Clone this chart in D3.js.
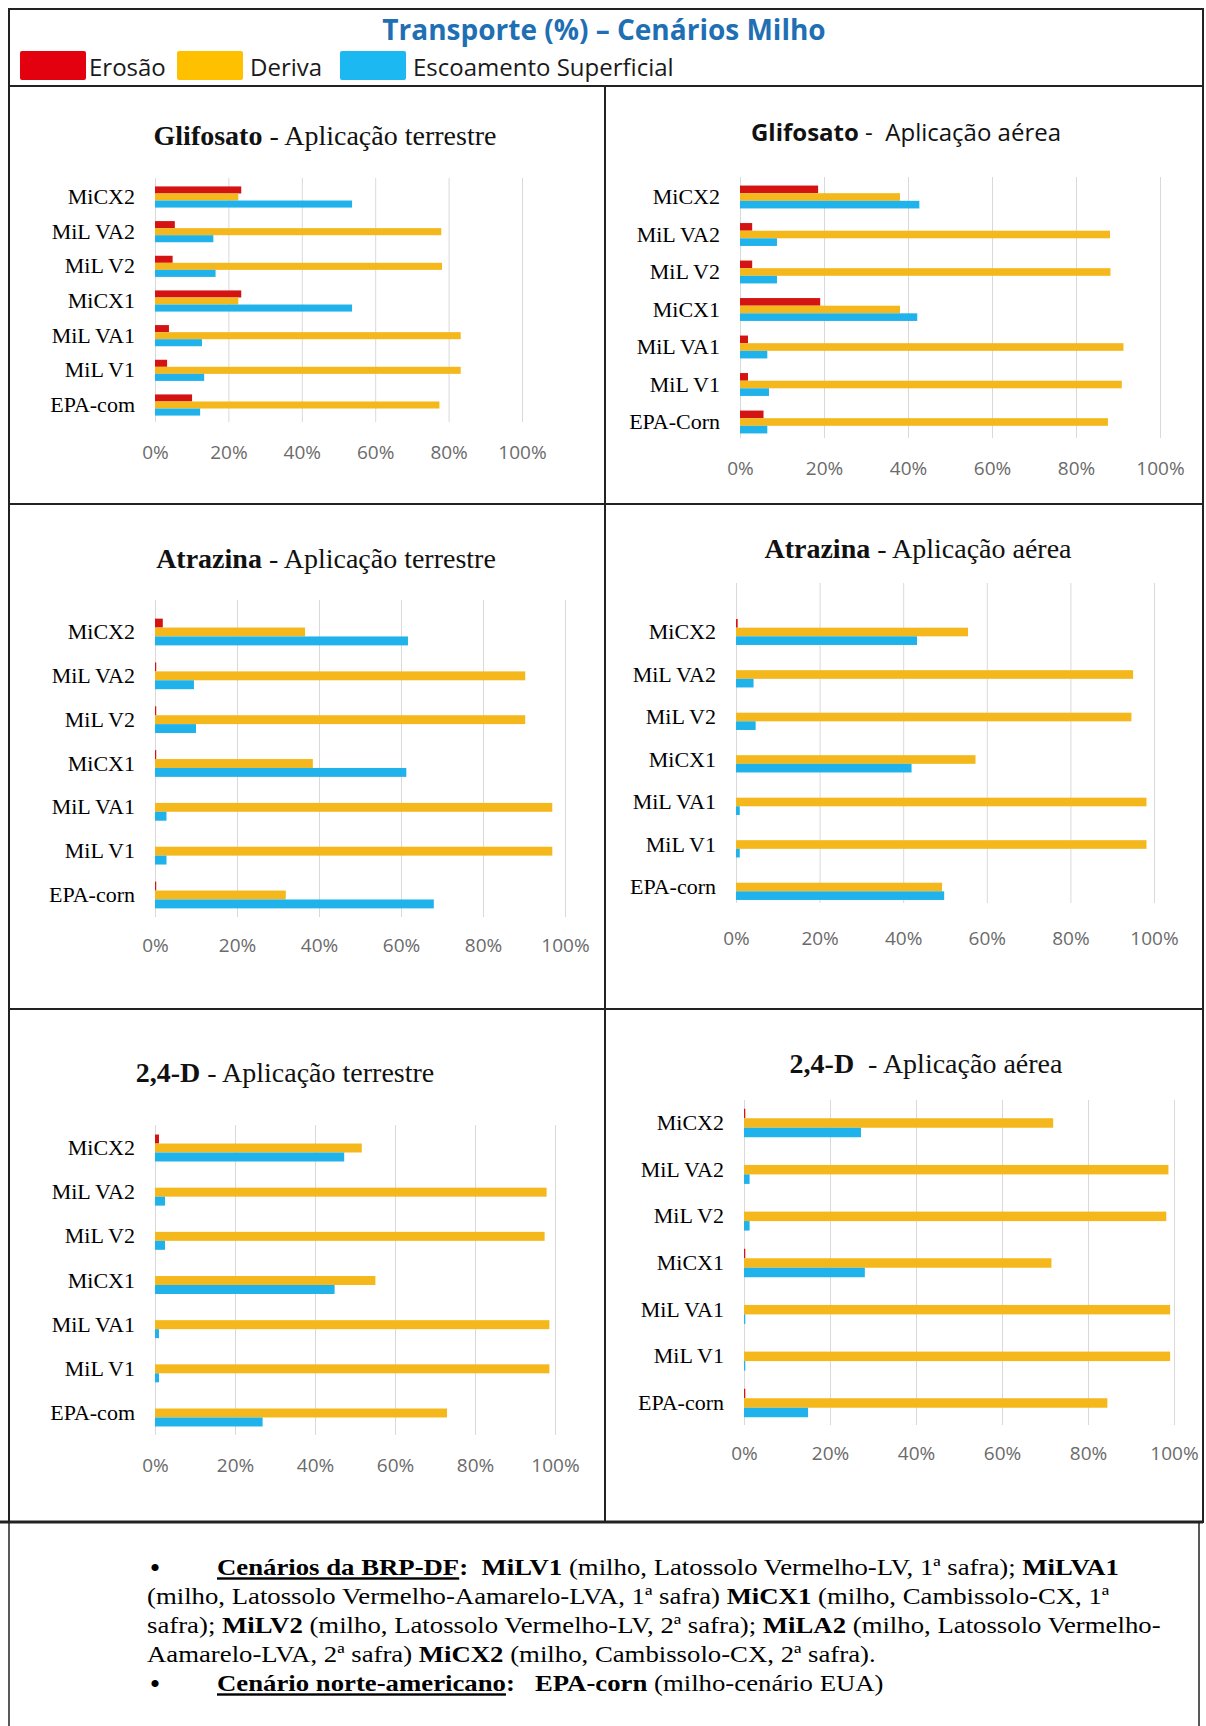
<!DOCTYPE html>
<html>
<head>
<meta charset="utf-8">
<script src="https://cdn.jsdelivr.net/npm/d3@7"></script>
<style>
  body { margin: 0; background: #fff; }
  text { white-space: pre; }
</style>
</head>
<body>
<div id="chart"></div>
<script>
// Categories (top to bottom)
const categorias = ["MiCX2", "MiL VA2", "MiL V2", "MiCX1", "MiL VA1", "MiL V1"];
const rotulosEPA = ["EPA-com", "EPA-Corn", "EPA-corn", "EPA-corn", "EPA-com", "EPA-corn"];
const series = ["Erosão", "Deriva", "Escoamento Superficial"];
const ticksPct = [0, 20, 40, 60, 80, 100];

// Glifosato - terrestre
const glifTerErosao = [23.5, 5.4, 4.8, 23.5, 3.8, 3.3, 10.1];
const glifTerDeriva = [22.7, 78.0, 78.2, 22.7, 83.3, 83.3, 77.5];
const glifTerEscoam = [53.7, 15.9, 16.5, 53.7, 12.8, 13.4, 12.3];
// Glifosato - aérea
const glifAerErosao = [18.6, 2.9, 2.9, 19.1, 1.9, 1.9, 5.6];
const glifAerDeriva = [38.1, 88.1, 88.2, 38.1, 91.3, 90.9, 87.6];
const glifAerEscoam = [42.7, 8.8, 8.8, 42.2, 6.5, 6.9, 6.5];
// Atrazina - terrestre
const atrTerErosao = [1.9, 0.3, 0.3, 0.3, 0, 0, 0.3];
const atrTerDeriva = [36.6, 90.3, 90.3, 38.5, 96.9, 96.9, 31.9];
const atrTerEscoam = [61.7, 9.5, 10.0, 61.3, 2.8, 2.8, 68.0];
// Atrazina - aérea
const atrAerErosao = [0.4, 0, 0, 0, 0, 0, 0];
const atrAerDeriva = [55.5, 95.0, 94.6, 57.3, 98.2, 98.2, 49.3];
const atrAerEscoam = [43.3, 4.2, 4.7, 42.0, 0.9, 0.9, 49.8];
// 2,4-D - terrestre
const d24TerErosao = [1.0, 0, 0, 0, 0, 0, 0];
const d24TerDeriva = [51.7, 97.9, 97.4, 55.1, 98.6, 98.6, 73.0];
const d24TerEscoam = [47.3, 2.5, 2.5, 44.9, 1.0, 1.0, 26.9];
// 2,4-D - aérea
const d24AerErosao = [0.3, 0, 0, 0.3, 0, 0, 0.3];
const d24AerDeriva = [71.9, 98.7, 98.2, 71.5, 99.1, 99.1, 84.5];
const d24AerEscoam = [27.2, 1.3, 1.3, 28.1, 0.3, 0.3, 14.9];

const corLegenda = ["#e3000f", "#ffc000", "#1cb8f2"];
const corBarra = ["#d41313", "#f5b81c", "#20b2ea"];

const W = 1206, H = 1726;
const serif = "'Liberation Serif', 'Times New Roman', serif";
const sans = "'Open Sans', 'DejaVu Sans', sans-serif";

var svg = d3.select("#chart")
    .append("svg")
    .attr("width", W)
    .attr("height", H);

svg.append("rect").attr("width", W).attr("height", H).attr("fill", "#fff");

// Main title
svg.append("text")
    .attr("x", 604)
    .attr("y", 30)
    .attr("dy", "0.35em")
    .attr("text-anchor", "middle")
    .style("font-family", sans)
    .style("font-weight", "bold")
    .style("font-size", "28px")
    .attr("fill", "#1f6fb4")
    .text("Transporte (%) – Cenários Milho");

// Legend
const legendPos = [{sx: 20, tx: 89}, {sx: 177, tx: 250}, {sx: 340, tx: 413}];
const legend = svg.append("g")
    .selectAll("g")
    .data(series)
    .enter().append("g");
legend.append("rect")
    .attr("x", (d, i) => legendPos[i].sx)
    .attr("y", 51)
    .attr("width", 66)
    .attr("height", 29)
    .attr("rx", 2)
    .attr("fill", (d, i) => corLegenda[i]);
legend.append("text")
    .attr("x", (d, i) => legendPos[i].tx)
    .attr("y", 68)
    .attr("dy", "0.35em")
    .style("font-family", sans)
    .style("font-size", "24px")
    .attr("fill", "#1a1a1a")
    .text(d => d);

// Panels
const panels = [
    {bold: "Glifosato", rest: " - Aplicação terrestre", font: serif, fs: 28, cx: 325, ty: 135,
     x0: 155, x1: 522, c0: 197, c6: 405, gTop: 178, gBot: 422, tickY: 452,
     data: [glifTerErosao, glifTerDeriva, glifTerEscoam], epa: rotulosEPA[0]},
    {bold: "Glifosato", rest: " -  Aplicação aérea", font: sans, fs: 24, cx: 906, ty: 133,
     x0: 740, x1: 1160, c0: 197, c6: 422, gTop: 177, gBot: 438, tickY: 468,
     data: [glifAerErosao, glifAerDeriva, glifAerEscoam], epa: rotulosEPA[1]},
    {bold: "Atrazina", rest: " - Aplicação terrestre", font: serif, fs: 28, cx: 326, ty: 558,
     x0: 155, x1: 565, c0: 632, c6: 895, gTop: 600, gBot: 917, tickY: 945,
     data: [atrTerErosao, atrTerDeriva, atrTerEscoam], epa: rotulosEPA[2]},
    {bold: "Atrazina", rest: " - Aplicação aérea", font: serif, fs: 28, cx: 918, ty: 548,
     x0: 736, x1: 1154, c0: 632, c6: 887, gTop: 583, gBot: 903, tickY: 938,
     data: [atrAerErosao, atrAerDeriva, atrAerEscoam], epa: rotulosEPA[3]},
    {bold: "2,4-D", rest: " - Aplicação terrestre", font: serif, fs: 28, cx: 285, ty: 1072,
     x0: 155, x1: 555, c0: 1148, c6: 1413, gTop: 1125, gBot: 1435, tickY: 1465,
     data: [d24TerErosao, d24TerDeriva, d24TerEscoam], epa: rotulosEPA[4]},
    {bold: "2,4-D", rest: "  - Aplicação aérea", font: serif, fs: 28, cx: 926, ty: 1063,
     x0: 744, x1: 1174, c0: 1123, c6: 1403, gTop: 1100, gBot: 1425, tickY: 1453,
     data: [d24AerErosao, d24AerDeriva, d24AerEscoam], epa: rotulosEPA[5]}
];

panels.forEach(function(p) {
    const cats = categorias.concat([p.epa]);
    const step = (p.c6 - p.c0) / 6;

    const x = d3.scaleLinear().domain([0, 100]).range([p.x0, p.x1]);
    const y = d3.scaleBand()
        .domain(cats)
        .range([p.c0 - step / 2, p.c6 + step / 2])
        .paddingInner(0.39)
        .paddingOuter(0.195);
    const ys = d3.scaleBand().domain([0, 1, 2]).range([0, y.bandwidth()]);

    const g = svg.append("g");

    // gridlines
    g.append("g")
        .attr("transform", `translate(0,${p.gBot})`)
        .call(d3.axisBottom(x).tickValues(ticksPct).tickSize(-(p.gBot - p.gTop)).tickFormat(""))
        .call(s => s.select(".domain").remove())
        .selectAll("line")
        .attr("stroke", "#d9d9d9");

    // bars
    const rows = [];
    cats.forEach((c, i) => {
        p.data.forEach((arr, k) => rows.push({cat: c, k: k, v: arr[i]}));
    });
    g.append("g")
        .selectAll("rect")
        .data(rows)
        .enter().append("rect")
        .attr("x", x(0))
        .attr("y", d => y(d.cat) + ys(d.k))
        .attr("width", d => x(d.v) - x(0))
        .attr("height", ys.bandwidth())
        .attr("fill", d => corBarra[d.k]);

    // x tick labels
    g.append("g")
        .attr("transform", `translate(0,${p.tickY})`)
        .call(d3.axisBottom(x).tickValues(ticksPct).tickSize(0).tickFormat(d => d + "%"))
        .call(s => s.select(".domain").remove())
        .selectAll("text")
        .attr("y", 0)
        .attr("dy", "0.35em")
        .attr("fill", "#6b6b6b")
        .style("font-family", sans)
        .style("font-size", "19px");

    // category labels
    g.append("g")
        .attr("transform", `translate(${p.x0},0)`)
        .call(d3.axisLeft(y).tickSize(0).tickPadding(20))
        .call(s => s.select(".domain").remove())
        .selectAll("text")
        .attr("fill", "#000")
        .style("font-family", serif)
        .style("font-size", "22px");

    // panel title
    const t = g.append("text")
        .attr("x", p.cx)
        .attr("y", p.ty)
        .attr("dy", "0.35em")
        .attr("text-anchor", "middle")
        .attr("fill", "#111")
        .style("font-family", p.font)
        .style("font-size", p.fs + "px");
    t.append("tspan").style("font-weight", "bold").text(p.bold);
    t.append("tspan").text(p.rest);
});

// Frame lines
const frame = svg.append("g").attr("stroke", "#222").attr("stroke-width", 2).attr("fill", "none");
frame.append("rect").attr("x", 9).attr("y", 9).attr("width", 1194).attr("height", 1513);
frame.append("line").attr("x1", 9).attr("x2", 1203).attr("y1", 86).attr("y2", 86);
frame.append("line").attr("x1", 9).attr("x2", 1203).attr("y1", 504).attr("y2", 504);
frame.append("line").attr("x1", 9).attr("x2", 1203).attr("y1", 1009).attr("y2", 1009);
frame.append("line").attr("x1", 605).attr("x2", 605).attr("y1", 86).attr("y2", 1522);
frame.append("line").attr("x1", 0).attr("x2", 1203).attr("y1", 1522).attr("y2", 1522).attr("stroke-width", 3);
frame.append("polyline").attr("points", "9,1522 9,1726").attr("stroke-width", 1.5);
frame.append("polyline").attr("points", "1199,1522 1199,1726").attr("stroke-width", 1.5);

// Footnote
const notaLinhas = [
    {x: 217, y: 1567, bullet: true, segs: [
        ["Cenários da BRP-DF", "bu"], [":  MiLV1", "b"], [" (milho, Latossolo Vermelho-LV, 1ª safra); ", ""], ["MiLVA1", "b"]]},
    {x: 147, y: 1596, segs: [
        ["(milho, Latossolo Vermelho-Aamarelo-LVA, 1ª safra) ", ""], ["MiCX1", "b"], [" (milho, Cambissolo-CX, 1ª", ""]]},
    {x: 147, y: 1625, segs: [
        ["safra); ", ""], ["MiLV2", "b"], [" (milho, Latossolo Vermelho-LV, 2ª safra); ", ""], ["MiLA2", "b"], [" (milho, Latossolo Vermelho-", ""]]},
    {x: 147, y: 1654, segs: [
        ["Aamarelo-LVA, 2ª safra) ", ""], ["MiCX2", "b"], [" (milho, Cambissolo-CX, 2ª safra).", ""]]},
    {x: 217, y: 1683, bullet: true, segs: [
        ["Cenário norte-americano", "bu"], [":   EPA-corn", "b"], [" (milho-cenário EUA)", ""]]}
];

const nota = svg.append("g")
    .style("font-family", serif)
    .style("font-size", "24px")
    .attr("fill", "#000");

notaLinhas.forEach(function(l) {
    if (l.bullet) {
        nota.append("text")
            .attr("x", 155).attr("y", l.y).attr("dy", "0.35em")
            .attr("text-anchor", "middle")
            .style("font-size", "30px")
            .text("•");
    }
    // the original text is slightly stretched horizontally
    const tx = nota.append("text")
        .attr("transform", `translate(${l.x},${l.y}) scale(1.115,1)`)
        .attr("dy", "0.35em");
    l.segs.forEach(function(s) {
        const ts = tx.append("tspan").text(s[0]);
        if (s[1].indexOf("b") >= 0) ts.style("font-weight", "bold");
        if (s[1].indexOf("u") >= 0) ts.style("text-decoration", "underline");
    });
});
</script>
</body>
</html>
